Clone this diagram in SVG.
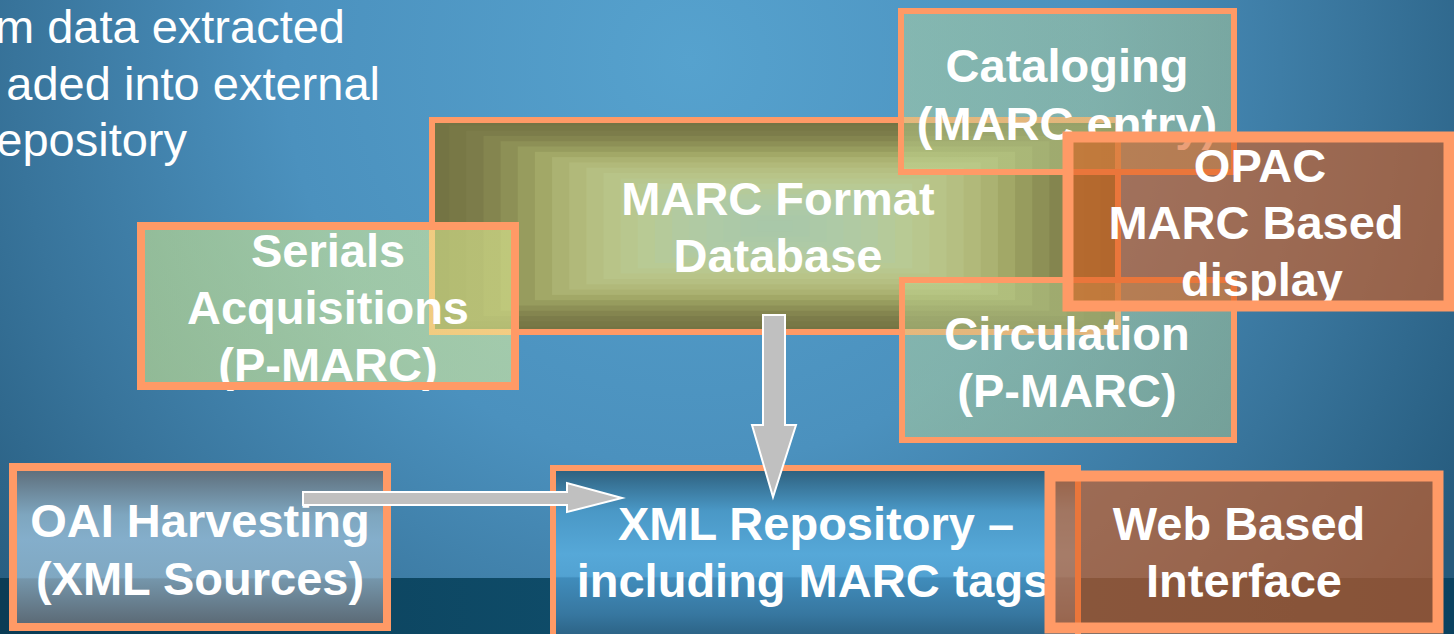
<svg xmlns="http://www.w3.org/2000/svg" width="1454" height="634" viewBox="0 0 1454 634">
<defs>
<radialGradient id="bg" gradientUnits="userSpaceOnUse" cx="690" cy="60" r="900">
<stop offset="0" stop-color="#56a2ce"/>
<stop offset="0.45" stop-color="#4b91be"/>
<stop offset="0.75" stop-color="#38749b"/>
<stop offset="1" stop-color="#255a7c"/>
</radialGradient>
<linearGradient id="band" x1="0" y1="0" x2="1" y2="0">
<stop offset="0" stop-color="#0a3c55"/>
<stop offset="0.5" stop-color="#10506e"/>
<stop offset="1" stop-color="#0b4260"/>
</linearGradient>
<linearGradient id="xmlg" gradientUnits="userSpaceOnUse" x1="0" y1="468" x2="0" y2="640">
<stop offset="0" stop-color="#2d5e7b"/>
<stop offset="0.25" stop-color="#4a98c6"/>
<stop offset="0.5" stop-color="#56a8d8"/>
<stop offset="0.63" stop-color="#52a2d2"/>
<stop offset="0.64" stop-color="#408cbb"/>
<stop offset="0.85" stop-color="#3777a0"/>
<stop offset="1" stop-color="#2a5f80"/>
</linearGradient>
<linearGradient id="oaig" gradientUnits="userSpaceOnUse" x1="0" y1="467" x2="0" y2="627">
<stop offset="0" stop-color="#5c6b77"/>
<stop offset="0.3" stop-color="#7ea6bf"/>
<stop offset="0.45" stop-color="#84aecb"/>
<stop offset="0.69" stop-color="#80a8c2"/>
<stop offset="0.7" stop-color="#7596ab"/>
<stop offset="1" stop-color="#5a6772"/>
</linearGradient>
<linearGradient id="serg" x1="0" y1="0" x2="1" y2="0">
<stop offset="0" stop-color="#d8ef8e"/>
<stop offset="1" stop-color="#e8f69a"/>
</linearGradient>
<linearGradient id="tealg" x1="0" y1="0" x2="1" y2="0">
<stop offset="0" stop-color="#c4dc98"/>
<stop offset="1" stop-color="#bcd494"/>
</linearGradient>
</defs>
<style>
.box{fill:none;stroke:#ff9a66;}
.t{font-family:"Liberation Sans",Arial,sans-serif;font-weight:bold;font-size:47px;fill:#ffffff;text-anchor:middle;}
.body{font-family:"Liberation Sans",Arial,sans-serif;font-size:47px;fill:#ffffff;text-anchor:end;}
.brown{fill:#dc5f1e;fill-opacity:0.6;}
.arrow{fill:#c0c0c0;stroke:#ffffff;stroke-width:2;}
</style>

<rect x="0" y="0" width="1454" height="634" fill="url(#bg)"/>
<rect x="0" y="578" width="1454" height="56" fill="url(#band)"/>

<g id="bodytext">
<text class="body" x="345" y="43">m data extracted</text>
<text class="body" x="380" y="100">aded into external</text>
<text class="body" x="187" y="156">epository</text>
</g>

<g id="marc-db">
<rect x="432" y="120" width="686" height="212" fill="#747444"/>
<rect x="449.15" y="125.3" width="651.7" height="201.4" fill="#787846"/>
<rect x="466.3" y="130.6" width="617.4" height="190.8" fill="#7c7c4a"/>
<rect x="483.45" y="135.9" width="583.1" height="180.2" fill="#84854f"/>
<rect x="500.6" y="141.2" width="548.8" height="169.6" fill="#8d9056"/>
<rect x="517.75" y="146.5" width="514.5" height="159" fill="#979c5e"/>
<rect x="534.9" y="151.8" width="480.2" height="148.4" fill="#a2a867"/>
<rect x="552.05" y="157.1" width="445.9" height="137.8" fill="#abb272"/>
<rect x="569.2" y="162.4" width="411.6" height="127.2" fill="#b1b97a"/>
<rect x="586.35" y="167.7" width="377.3" height="116.6" fill="#b5bf82"/>
<rect x="603.5" y="173" width="343" height="106" fill="#b8c488"/>
<rect x="620.65" y="178.3" width="308.7" height="95.4" fill="#b8c78e"/>
<rect x="637.8" y="183.6" width="274.4" height="84.8" fill="#b8ca94"/>
<rect x="654.95" y="188.9" width="240.1" height="74.2" fill="#b5ca9a"/>
<rect x="672.1" y="194.2" width="205.8" height="63.6" fill="#b2caa0"/>
<rect x="689.25" y="199.5" width="171.5" height="53" fill="#b0caa3"/>
<rect x="706.4" y="204.8" width="137.2" height="42.4" fill="#aecaa6"/>
<rect x="723.55" y="210.1" width="102.9" height="31.8" fill="#acc9a7"/>
<rect x="740.7" y="215.4" width="68.6" height="21.2" fill="#aac8a8"/>
<rect x="757.85" y="220.7" width="34.3" height="10.6" fill="#a9c8a9"/>
<text class="t" x="778" y="215">MARC Format</text>
<text class="t" x="778" y="272">Database</text>
<rect class="box" x="432" y="120" width="686" height="212" stroke-width="6"/>
</g>

<g id="serials">
<rect x="141" y="226" width="374" height="160" fill="url(#serg)" fill-opacity="0.55"/>
<text class="t" x="328" y="267">Serials</text>
<text class="t" x="328" y="324">Acquisitions</text>
<text class="t" x="328" y="381">(P-MARC)</text>
<rect class="box" x="141" y="226" width="374" height="160" stroke-width="8"/>
</g>

<g id="cataloging">
<rect x="901" y="11" width="333" height="161" fill="url(#tealg)" fill-opacity="0.45"/>
<text class="t" x="1067" y="82">Cataloging</text>
<text class="t" x="1067" y="140">(MARC entry)</text>
<rect class="box" x="901" y="11" width="333" height="161" stroke-width="6"/>
</g>

<g id="circulation">
<rect x="902" y="280" width="332" height="160" fill="url(#tealg)" fill-opacity="0.45"/>
<text class="t" x="1067" y="350">Circulation</text>
<text class="t" x="1067" y="407">(P-MARC)</text>
<rect class="box" x="902" y="280" width="332" height="160" stroke-width="6"/>
</g>

<g id="opac">
<rect class="brown" x="1068" y="137" width="381" height="169"/>
<text class="t" x="1260" y="182">OPAC</text>
<text class="t" x="1256" y="239">MARC Based</text>
<text class="t" x="1262" y="296">display</text>
<rect class="box" x="1068" y="137" width="381" height="169" stroke-width="11"/>
</g>

<g id="oai">
<rect x="13" y="467" width="374" height="160" fill="url(#oaig)"/>
<text class="t" x="200" y="537">OAI Harvesting</text>
<text class="t" x="200" y="595">(XML Sources)</text>
<rect class="box" x="13" y="467" width="374" height="160" stroke-width="8"/>
</g>

<g id="xml-repo">
<rect x="553" y="468" width="525" height="172" fill="url(#xmlg)"/>
<text class="t" x="816" y="540">XML Repository –</text>
<text class="t" x="813" y="597">including MARC tags</text>
<rect class="box" x="553" y="468" width="525" height="172" stroke-width="6"/>
</g>

<g id="web">
<rect class="brown" x="1050" y="476" width="388" height="152"/>
<text class="t" x="1239" y="540">Web Based</text>
<text class="t" x="1244" y="597">Interface</text>
<rect class="box" x="1050" y="476" width="388" height="152" stroke-width="11"/>
</g>

<g id="connectors">
<polygon class="arrow" points="763,315 785,315 785,425 796,425 773,497 752,425 763,425"/>
<polygon class="arrow" points="303,492 567,492 567,483 622,498 567,512 567,505 303,505"/>
</g>
</svg>
